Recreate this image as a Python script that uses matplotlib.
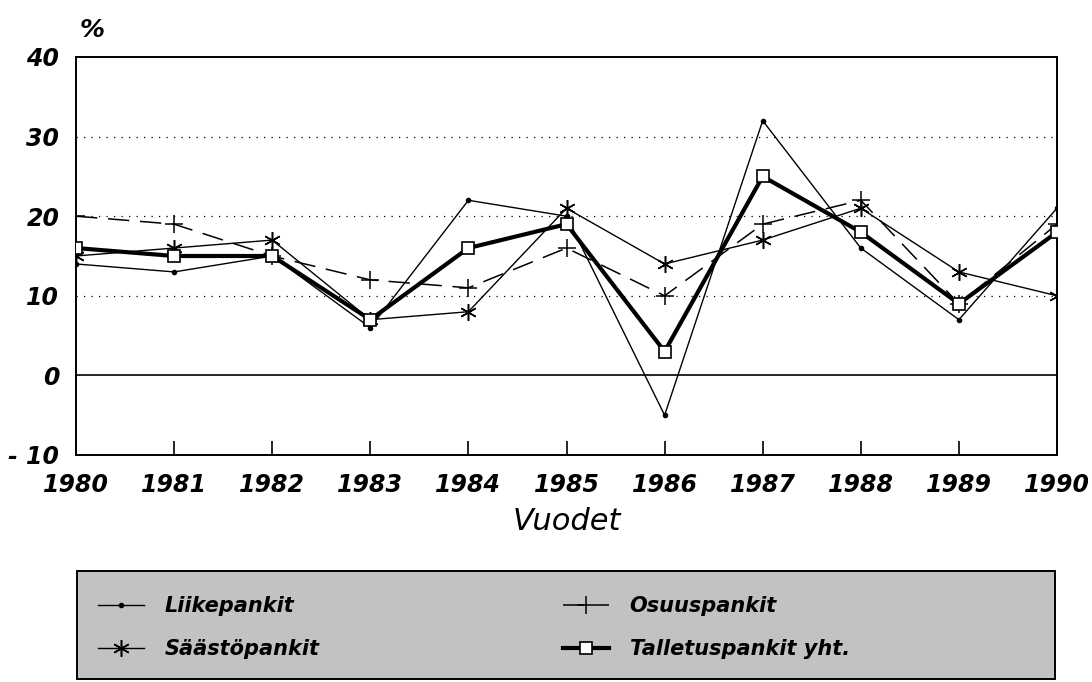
import matplotlib
matplotlib.use("Agg")
import matplotlib.pyplot as plt
from matplotlib.patches import Rectangle

# data (percent change per year)
years = [1980, 1981, 1982, 1983, 1984, 1985, 1986, 1987, 1988, 1989, 1990]
liikepankit = [14, 13, 15, 6, 22, 20, -5, 32, 16, 7, 21]
osuuspankit = [20, 19, 15, 12, 11, 16, 10, 19, 22, 9, 19]
saastopankit = [15, 16, 17, 7, 8, 21, 14, 17, 21, 13, 10]
talletuspankit = [16, 15, 15, 7, 16, 19, 3, 25, 18, 9, 18]

y_ticks = [-10, 0, 10, 20, 30, 40]
y_labels = ['- 10', '0', '10', '20', '30', '40']
names = ['Liikepankit', 'Säästöpankit', 'Osuuspankit', 'Talletuspankit yht.']

fnt = 'DejaVu Sans'
W, H = 1092, 682

fig = plt.figure(figsize=(10.92, 6.82), dpi=100)
ax = fig.add_axes([76 / W, 1 - 455 / H, (1057 - 76) / W, (455 - 57) / H])

# dotted grid lines and solid zero line
for g in [10, 20, 30]:
    ax.axhline(g, color='black', lw=0.9, linestyle=(0, (1, 5)), zorder=1)
ax.axhline(0, color='black', lw=1.2, zorder=1)

l1, = ax.plot(years, liikepankit, color='black', lw=1.0, marker='o', ms=3, zorder=3)
l3, = ax.plot(years, osuuspankit, color='black', lw=1.1, dashes=(14, 7), marker='+',
              ms=13, mew=1.1, zorder=3)
l2, = ax.plot(years, saastopankit, color='black', lw=1.0, marker=(6, 2, 0), ms=12,
              mew=1.1, zorder=3)
l4, = ax.plot(years, talletuspankit, color='black', lw=3.0, marker='s', ms=8,
              mfc='white', mec='black', mew=1.2, zorder=4)

ax.set_xlim(1980, 1990)
ax.set_ylim(-10, 40)
ax.set_yticks(y_ticks)
ax.set_yticklabels(y_labels, fontsize=17, fontweight='bold', fontstyle='italic', family=fnt)
ax.set_xticks(years)
ax.set_xticklabels([str(y) for y in years], fontsize=17, fontweight='bold',
                   fontstyle='italic', family=fnt)
ax.tick_params(axis='x', direction='in', length=10, width=1.2, pad=13, top=False)
ax.tick_params(axis='y', length=0, pad=12)
for s in ax.spines.values():
    s.set_linewidth(1.4)

ax.set_xlabel('Vuodet', fontsize=22, fontstyle='italic', family=fnt)
ax.xaxis.set_label_coords(0.5, -0.13)
fig.text(92 / W, 1 - 30 / H, '%', fontsize=18, fontweight='bold', fontstyle='italic',
         family=fnt, ha='center', va='center')

# grey legend panel
panel = Rectangle((77 / W, 1 - 679 / H), (1055 - 77) / W, (679 - 571) / H,
                  transform=fig.transFigure, facecolor='#c2c2c2', edgecolor='black',
                  lw=1.4, zorder=0)
fig.patches.append(panel)

prop = {'family': fnt, 'weight': 'bold', 'style': 'italic', 'size': 15}
common = dict(loc='upper left', frameon=False, borderpad=0, borderaxespad=0,
              handlelength=2.2, handletextpad=1.0, labelspacing=1.1, prop=prop)
fig.legend([l1, l2], names[:2], bbox_to_anchor=(98 / W, 1 - 596 / H), **common)
fig.legend([l3, l4], names[2:], bbox_to_anchor=(563 / W, 1 - 596 / H), **common)

fig.savefig('out.png', dpi=100)
